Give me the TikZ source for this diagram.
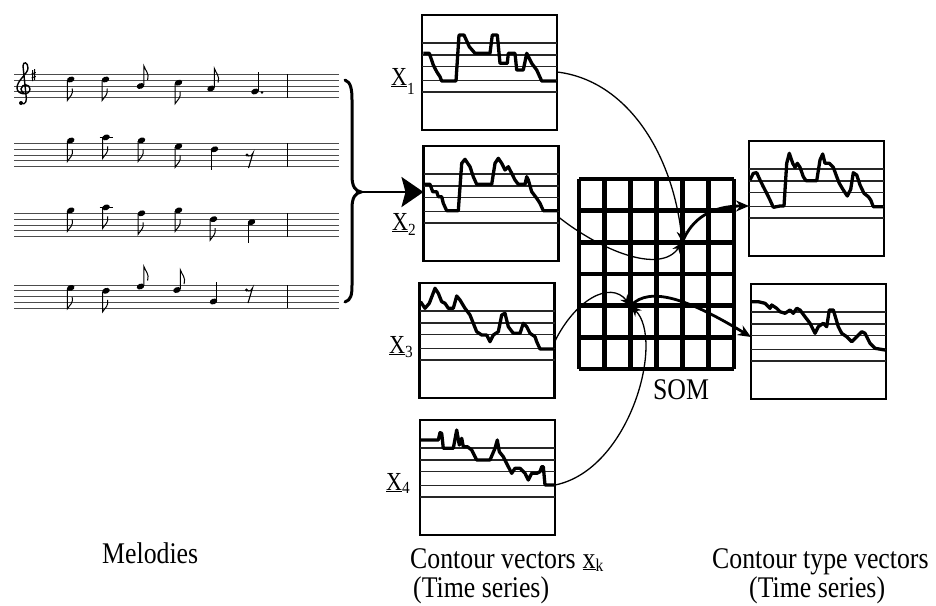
\documentclass[tikz,border=0pt]{standalone}
\usepackage{fontspec}
\usepackage{graphicx}
\setmainfont{Liberation Serif}
\usetikzlibrary{arrows.meta,calc}
\newcommand{\nhd}[2]{\fill[rotate around={22:(#1,#2)}] (#1,#2) ellipse [x radius=3.9, y radius=2.8];}
\newcommand{\ndnE}[2]{\nhd{#1}{#2}\draw[line width=1pt] (#1-3.4,#2+0.8) -- (#1-3.4,#2+21) .. controls (#1-1,#2+17) and (#1+3,#2+15) .. (#1+1.5,#2+9);}
\newcommand{\ndnQ}[2]{\nhd{#1}{#2}\draw[line width=1pt] (#1-3.4,#2+0.8) -- (#1-3.4,#2+21);}
\newcommand{\nupE}[2]{\nhd{#1}{#2}\draw[line width=1pt] (#1+3.4,#2-0.8) -- (#1+3.4,#2-20) .. controls (#1+5,#2-15) and (#1+9,#2-13) .. (#1+7,#2-6);}
\newcommand{\nupQ}[2]{\nhd{#1}{#2}\draw[line width=1pt] (#1+3.4,#2-0.8) -- (#1+3.4,#2-20);}
\newcommand{\ledg}[2]{\draw[line width=1pt] (#1-6.5,#2) -- (#1+6.5,#2);}
\newcommand{\erest}[2]{\fill (#1-2.5,#2-5) circle (1.7); \draw[line width=1.1pt] (#1-2.5,#2-5) .. controls (#1,#2-3) and (#1+2,#2-4) .. (#1+3.5,#2-7) -- (#1-1,#2+8);}
\newcommand{\hlines}[3]{\foreach \o in {28,40,51.5,65.5,77} {\draw[hl] (#1,#3+\o) -- (#2,#3+\o);}}
\newcommand{\sqz}[1]{\scalebox{0.86}[1]{#1}}
\newcommand{\xlabel}[2]{\scalebox{0.85}[1]{\fontsize{26}{28}\selectfont\underline{X}}\raisebox{#1}{\scalebox{0.9}[1]{\fontsize{17}{17}\selectfont #2}}}
\begin{document}
\begin{tikzpicture}[x=1pt,y=-1pt,
 box/.style={draw, line width=2.6pt, minimum width=135pt, minimum height=115pt, inner sep=0pt, outer sep=0pt},
 hl/.style={line width=1.3pt, black!85},
 ctr/.style={line width=3.3pt, line join=round},
 grd/.style={line width=4.8pt, line cap=square},
 thinarr/.style={line width=1.3pt, -{Stealth[length=11pt,width=9pt]}},
 thickarr/.style={line width=2.8pt, -{Stealth[length=13pt,width=11pt]}},
 lab/.style={font=\fontsize{30}{34}\selectfont, inner sep=0pt},
 staff/.style={line width=1pt, black!70}]
\useasboundingbox (0,0) rectangle (936,605);

% ---------------- staves ----------------
\foreach \t in {74.3,143.3,213.3,285}{
  \foreach \i in {0,...,4}{\draw[staff] (14,\t+\i*5.85) -- (339,\t+\i*5.85);}
  \draw[line width=1.2pt] (287.3,\t) -- (287.3,\t+23.4);
}
% treble clef and sharp
\draw[line width=1.4pt] (21,103) .. controls (26,106) and (27,100) .. (26,95) -- (23,66) .. controls (23,61) and (28,62) .. (28,68) .. controls (28,74) and (17,80) .. (17,88) .. controls (17,95) and (30,96) .. (30,89) .. controls (30,84) and (22,83) .. (21,89) .. controls (21,91) and (23,93) .. (24,93);
\fill (21,103) circle (2);
\draw[line width=0.8pt] (32.6,70) -- (32.6,81) (34.6,69) -- (34.6,80) (31.5,74) -- (35.8,72.5) (31.5,78) -- (35.8,76.5);
% staff 1
\ndnE{70.7}{79.5}\ndnE{105.5}{79.5}\nupE{140.5}{86}\ndnE{178.5}{82.7}\nupE{211}{88.5}\nupQ{255}{91.5}
\fill (262,92.5) circle (1.4);
% staff 2
\ndnE{70.7}{140.5}\ledg{106}{137.5}\ndnE{106}{137.4}\ndnE{141.5}{140.4}\ndnE{178.5}{146.3}\ndnQ{214.5}{149.3}\erest{249.5}{160}
% staff 3
\ndnE{70.7}{210.4}\ledg{106}{207.5}\ndnE{106}{207.4}\ndnE{141.5}{213.3}\ndnE{178.5}{210.4}\ndnE{213.5}{219.2}\ndnQ{251.5}{222.1}
% staff 4
\ndnE{70.7}{287.9}\ndnE{106}{290.8}\nupE{140.5}{286.5}\nupE{177}{290}\nupQ{213.5}{301.5}\erest{249}{295}

% brace and arrow
\draw[line width=3pt, line cap=round] (345,80) .. controls (351,82) and (352,90) .. (352,100) -- (352,176) .. controls (352,186) and (355,191) .. (361,192) .. controls (355,193) and (352,198) .. (352,208) -- (352,285) .. controls (352,295) and (351,300) .. (345,302);
\coordinate (bt) at (361,192);

% ---------------- contour boxes ----------------
\node[box] (b1) at (489.5,72.5) {};
\node[box] (b2) at (491,203.5) {};
\node[box] (b3) at (487,340.5) {};
\node[box] (b4) at (487.5,477.5) {};
\node[box] (r1) at (816.5,198.5) {};
\node[box] (r2) at (818.5,341.5) {};
\hlines{422}{557}{15}
\hlines{423.5}{558.5}{146}
\hlines{419.5}{554.5}{283}
\hlines{420}{555}{420}
\hlines{749}{884}{141}
\hlines{751}{886}{284}

\draw[ctr] plot[sharp plot] coordinates {(423.3,53.3) (429.3,53.3) (433.3,65) (436.7,71.7) (440,76.7) (441.7,81) (456,81) (459,35) (464,35) (469.3,46.7) (475,53.3) (490,53.3) (492.3,35) (497.3,35) (500,63.3) (507.3,63.3) (508.3,53.3) (515,53.3) (516.7,70) (523.3,70) (526.7,53.3) (531.7,63.3) (536.7,70) (541.7,81) (556,81)};
\draw[ctr] plot[sharp plot] coordinates {(424.5,184.3) (430,184.3) (432.7,191.7) (436.7,191.7) (438.3,196.7) (441.7,196.7) (443.3,203.3) (446.7,210.7) (458.3,210.7) (461.7,163.3) (465,159.3) (470,166.7) (473.3,176.7) (476.7,184.3) (491.7,184.3) (495,163.3) (498.3,158.3) (501.7,163.3) (505,170) (508.3,166.7) (511.7,173.3) (515,180) (518.3,184.3) (525,184.3) (526.7,176.7) (528.3,180) (531.7,191.7) (536.7,198.3) (540,203.3) (543.3,210.7) (557.5,210.7)};
\draw[ctr] plot[sharp plot] coordinates {(420.5,301.7) (425,308.3) (429.3,303.3) (435,288.3) (438.3,293.3) (441.7,301.7) (445,303.3) (448.3,308.3) (453.3,308.3) (456.7,296) (460,300) (465,308.3) (470,315) (473.3,323.3) (476.7,331.7) (481.7,335) (486.7,335) (490,341.7) (493.3,335) (498.3,331.7) (501.7,315) (505,313.3) (508.3,326.7) (513.3,333.3) (520,333.3) (523.3,323.3) (526.7,326.7) (530,333.3) (535,336.7) (536.7,341.7) (540,349) (554,349)};
\draw[ctr] plot[sharp plot] coordinates {(421,440) (438.3,440) (440,432.7) (441.7,433.3) (443.3,448.3) (453.3,448.3) (456.7,430) (459.3,445) (461.7,438.3) (463.3,446.7) (467.3,446.7) (471.7,450) (476.7,460) (490,460) (495,448.3) (497.3,440) (499.3,451.7) (503.3,456.7) (508.3,466.7) (511.7,473.3) (515,468.3) (520,468.3) (525,473.3) (528.3,480) (531.7,473.3) (536.7,473.3) (540,471.7) (541.7,466.7) (543.3,466.7) (545,485) (554.5,485)};
\draw[ctr] plot[sharp plot] coordinates {(750,180) (753.3,173.3) (756.7,172.7) (760,180) (763.3,186.7) (766.7,193.3) (770,200) (773.3,207.3) (780,206) (784,206) (786.7,163.3) (789.3,153.3) (792.7,163.3) (795,167.3) (797.3,163.3) (800,167.3) (803.3,176.7) (806,180.7) (816.7,180.7) (820,160) (822.7,154) (825,163.3) (829.3,163.3) (833.3,167.3) (836.7,176.7) (839.3,183.3) (843.3,190) (847.3,196) (850.7,189.3) (853.3,172.7) (856.7,175) (860,185) (864,193.3) (868.3,196.7) (870.7,200) (873.3,206.7) (883,206.7)};
\draw[ctr] plot[sharp plot] coordinates {(752,301.7) (758.3,301.7) (765,303.3) (770,308.3) (771.7,305) (776.7,308.3) (780,311.7) (785,313.3) (790,310) (793.3,313.3) (796.7,308.3) (800,310) (805,316.7) (810,323.3) (815,333.3) (818.3,326.7) (823.3,323.3) (826.7,326.7) (829.3,310) (833.3,310) (838.3,326.7) (841.7,333.3) (846.7,336.7) (851.7,341.7) (856.7,336.7) (861.7,331.7) (865,333.3) (870,343.3) (875,348.3) (885,350)};

% ---------------- SOM grid ----------------
\foreach \i in {0,...,6}{
  \draw[grd] (579+\i*25.83,179) -- (579+\i*25.83,369);
  \draw[grd] (579,179+\i*31.67) -- (734,179+\i*31.67);
}
\coordinate (wA) at (682.3,242.3);
\coordinate (wB) at (630.7,305.7);
\node[lab, anchor=base] (som) at (681,399) {\sqz{SOM}};

% ---------------- connectors ----------------
\draw[line width=2.8pt, -{Stealth[length=22pt,width=30pt,inset=4pt]}] (bt) -- (bt -| b2.west);
\draw[thinarr] ([yshift=0.5pt]b1.east) .. controls (625,80) and (672,150) .. (wA);
\draw[thinarr] ([yshift=-13.5pt]b2.east) .. controls (600,250) and (660,275) .. (wA);
\draw[thinarr] ([yshift=-1.5pt]b3.east) .. controls (575,300) and (610,280) .. (wB);
\draw[thinarr] ([yshift=-7.5pt]b4.east) .. controls (630,470) and (665,340) .. (wB);
\draw[thickarr] (wA) .. controls (692,218) and (712,206) .. ([yshift=-7.5pt]r1.west);
\draw[thickarr] (wB) .. controls (650,285) and (690,300) .. ([yshift=4.5pt]r2.west);

% ---------------- labels ----------------
\node[inner sep=0pt, anchor=base west] (x1) at (391,85) {\xlabel{-9pt}{1}};
\node[inner sep=0pt, anchor=base west] (x2) at (392,230) {\xlabel{-5pt}{2}};
\node[inner sep=0pt, anchor=base west] (x3) at (389,353) {\xlabel{-4pt}{3}};
\node[inner sep=0pt, anchor=base west] (x4) at (386,490) {\xlabel{-3pt}{4}};
\node[lab, anchor=base west] (mel) at (102,563) {\sqz{Melodies}};
\node[lab, anchor=base west] (cv) at (410,568) {\sqz{Contour vectors\hspace{8pt}\underline{x}\raisebox{-3pt}{\fontsize{18}{18}\selectfont k}}};
\node[lab, anchor=base west] (cvt) at (413,597) {\sqz{(Time series)}};
\node[lab, anchor=base west] (ct) at (712,568) {\sqz{Contour type vectors}};
\node[lab, anchor=base west] (ctt) at (749,597) {\sqz{(Time series)}};
\end{tikzpicture}
\end{document}
